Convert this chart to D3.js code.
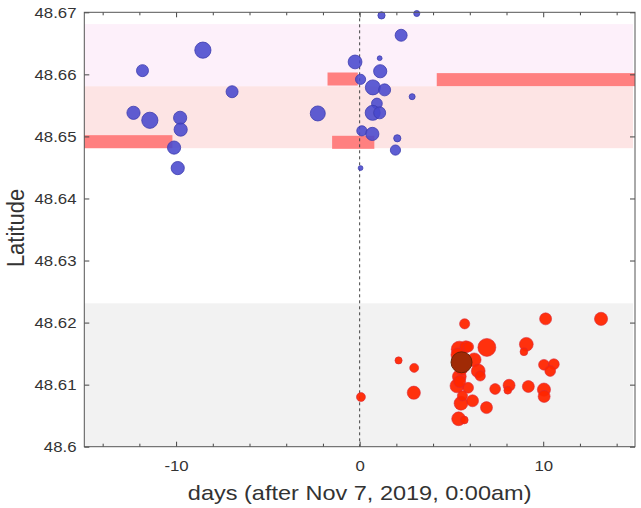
<!DOCTYPE html>
<html>
<head>
<meta charset="utf-8">
<script src="https://cdn.jsdelivr.net/npm/d3@7"></script>
<style>
  html, body { margin: 0; padding: 0; background: #fff; }
  svg { display: block; }
  text { font-family: "Liberation Sans", Arial, Helvetica, sans-serif; fill: #333; }
</style>
</head>
<body>
<svg id="chart" width="641" height="508"></svg>
<script>
// Event days relative to Nov 7, 2019 and their latitudes / magnitudes
const blueDays = [-8.54, -11.83, -6.95, -12.32, -11.43, -9.78, -9.75, -10.11, -9.91, -2.28,
  1.19, 3.11, 2.26, -0.25, 1.09, 1.12, 0.05, 0.72, 1.36, 2.86,
  0.94, 0.71, 1.09, 0.12, 0.69, 2.05, 1.95, 0.05];
const blueLats = [48.6639, 48.6606, 48.6572, 48.6538, 48.6526, 48.6530, 48.6511, 48.6482, 48.6449, 48.6537,
  48.6695, 48.6698, 48.6663, 48.6620, 48.6626, 48.6605, 48.6592, 48.6579, 48.6575, 48.6564,
  48.6553, 48.6538, 48.6538, 48.6509, 48.6504, 48.6497, 48.6478, 48.6449];
const blueMags = [2.2, 1.5, 1.5, 1.7, 2.2, 1.7, 1.7, 1.7, 1.7, 2.0,
  0.7, 0.5, 1.5, 1.8, 0.3, 1.7, 1.2, 2.0, 1.5, 0.5,
  1.3, 2.0, 1.5, 1.2, 1.7, 0.7, 1.2, 0.3];

const redDays = [5.72, 10.13, 13.15, 6.93, 9.08, 8.95, 2.12, 2.97, 2.95, 0.07,
  7.38, 8.14, 8.07, 9.19, 10.04, 10.05, 10.04, 10.58, 10.38, 6.91,
  5.43, 5.79, 5.93, 6.24, 6.46, 6.57, 5.43, 5.30, 5.91, 5.52,
  6.15, 5.39, 5.70, 5.35, 5.55, 5.45, 5.60];
const redLats = [48.6198, 48.6206, 48.6206, 48.6160, 48.6165, 48.6153, 48.6139, 48.6127, 48.6087, 48.6080,
  48.6093, 48.6099, 48.6091, 48.6097, 48.6092, 48.6081, 48.6132, 48.6133, 48.6122, 48.6063,
  48.6157, 48.6161, 48.6161, 48.6140, 48.6122, 48.6114, 48.6113, 48.6098, 48.6095, 48.6070,
  48.6074, 48.6045, 48.6043, 48.6148, 48.6125, 48.6105, 48.6082];
const redMags = [1.2, 1.5, 1.7, 2.5, 1.8, 0.8, 0.7, 1.0, 1.7, 1.0,
  1.3, 1.5, 0.8, 1.5, 1.7, 1.5, 1.3, 1.3, 1.3, 1.5,
  2.2, 1.5, 1.2, 1.8, 1.8, 1.2, 1.8, 1.8, 1.3, 1.8,
  1.5, 1.8, 0.8, 1.8, 1.5, 1.5, 1.2];

// Main event
const mainDay = [5.55];
const mainLat = [48.6136];
const mainMag = [3.0];

// Latitude bands (full width)
const bandLo = [48.6481, 48.6581, 48.6];
const bandHi = [48.6581, 48.6681, 48.6231];

// Time windows: start day, end day, latitude range
const winStart = [-15, -1.75, -1.5, 4.2];
const winEnd = [-10.2, -0.1, 0.8, 15];
const winLatLo = [48.6481, 48.6582, 48.6480, 48.6581];
const winLatHi = [48.6502, 48.6603, 48.6501, 48.6602];

// Axis ticks
const xTicks = [-14, -12, -10, -8, -6, -4, -2, 0, 2, 4, 6, 8, 10, 12, 14];
const xTickLabels = ["", "", "-10", "", "", "", "", "0", "", "", "", "", "10", "", ""];
const yTicks = [48.6, 48.61, 48.62, 48.63, 48.64, 48.65, 48.66, 48.67];
const yTickLabels = ["48.6", "48.61", "48.62", "48.63", "48.64", "48.65", "48.66", "48.67"];

const svg = d3.select("#chart");
const plotL = 84.3, plotR = 635, plotT = 12.3, plotB = 446.7;
const sx = 1.12; // horizontal text stretch

const x = d3.scaleLinear().domain([-15, 15]).range([plotL, plotR]);
const y = d3.scaleLinear().domain([48.6, 48.67]).range([plotB, plotT]);
const r = d3.scaleLinear().domain([0, 3]).range([1.5, 10.5]);

const bandColors = ["#fde4e4", "#fdf0fa", "#f2f2f2"];
svg.append("g").selectAll("rect").data(bandLo).join("rect")
  .attr("x", x(-15)).attr("width", x(15) - x(-15) - 2)
  .attr("y", (d, i) => y(bandHi[i]))
  .attr("height", (d, i) => y(bandLo[i]) - y(bandHi[i]))
  .attr("fill", (d, i) => bandColors[i]);

svg.append("g").selectAll("rect").data(winStart).join("rect")
  .attr("x", d => x(d))
  .attr("width", (d, i) => x(winEnd[i]) - x(d))
  .attr("y", (d, i) => y(winLatHi[i]))
  .attr("height", (d, i) => y(winLatLo[i]) - y(winLatHi[i]))
  .attr("fill", "#ff8080");

// Origin marker
svg.append("line")
  .attr("x1", x(0)).attr("x2", x(0)).attr("y1", plotT).attr("y2", plotB)
  .attr("stroke", "#444").attr("stroke-width", 1).attr("stroke-dasharray", "3,3");

svg.append("g").selectAll("circle").data(blueDays).join("circle")
  .attr("cx", d => x(d)).attr("cy", (d, i) => y(blueLats[i]))
  .attr("r", (d, i) => r(blueMags[i]))
  .attr("fill", "rgb(72,72,205)").attr("fill-opacity", 0.88)
  .attr("stroke", "rgb(60,60,175)").attr("stroke-width", 0.8);

svg.append("g").selectAll("circle").data(redDays).join("circle")
  .attr("cx", d => x(d)).attr("cy", (d, i) => y(redLats[i]))
  .attr("r", (d, i) => r(redMags[i]))
  .attr("fill", "rgb(255,38,0)").attr("fill-opacity", 0.95)
  .attr("stroke", "rgb(215,40,60)").attr("stroke-width", 0.7).attr("stroke-opacity", 0.8);

svg.append("g").selectAll("circle").data(mainDay).join("circle")
  .attr("cx", d => x(d)).attr("cy", (d, i) => y(mainLat[i]))
  .attr("r", (d, i) => r(mainMag[i]))
  .attr("fill", "rgb(160,42,5)")
  .attr("stroke", "rgb(105,35,5)").attr("stroke-width", 1);

// Axes (ticks point inward)
const axisColor = "#444";
function styleAxis(g) {
  g.select(".domain").remove();
  g.selectAll("line").attr("stroke", axisColor);
  g.selectAll("text").attr("font-size", 15).attr("fill", "#333")
    .style("font-family", '"Liberation Sans", Arial, sans-serif');
}

const gx = svg.append("g").attr("transform", `translate(0,${plotB})`)
  .call(d3.axisBottom(x).tickValues(xTicks).tickSize(-3).tickPadding(14)
    .tickFormat((d, i) => xTickLabels[i]));
styleAxis(gx);
gx.selectAll(".tick line").attr("y2", d => d % 10 === 0 ? -5 : -3);
gx.selectAll(".tick text").attr("transform", `scale(${sx},1)`);

const gxt = svg.append("g").attr("transform", `translate(0,${plotT})`)
  .call(d3.axisTop(x).tickValues(xTicks).tickSize(-3).tickFormat(""));
styleAxis(gxt);
gxt.selectAll(".tick line").attr("y2", d => d % 10 === 0 ? 5 : 3);

const gy = svg.append("g").attr("transform", `translate(${plotL},0)`)
  .call(d3.axisLeft(y).tickValues(yTicks).tickSize(-5).tickPadding(7)
    .tickFormat((d, i) => yTickLabels[i]));
styleAxis(gy);
gy.selectAll(".tick text").attr("transform", `scale(${sx},1)`);

const gyr = svg.append("g").attr("transform", `translate(${plotR},0)`)
  .call(d3.axisRight(y).tickValues(yTicks).tickSize(-5).tickFormat(""));
styleAxis(gyr);

// Plot frame
svg.append("rect")
  .attr("x", plotL).attr("y", plotT)
  .attr("width", plotR - plotL).attr("height", plotB - plotT)
  .attr("fill", "none").attr("stroke", "#555").attr("stroke-width", 1);

// Axis titles
svg.append("text")
  .attr("transform", `translate(${(plotL + plotR) / 2},500) scale(${sx},1)`)
  .attr("text-anchor", "middle").attr("font-size", 21)
  .text("days (after Nov 7, 2019, 0:00am)");

svg.append("text")
  .attr("transform", `translate(24,228) scale(${sx},1) rotate(-90)`)
  .attr("text-anchor", "middle").attr("font-size", 22)
  .text("Latitude");
</script>
</body>
</html>
